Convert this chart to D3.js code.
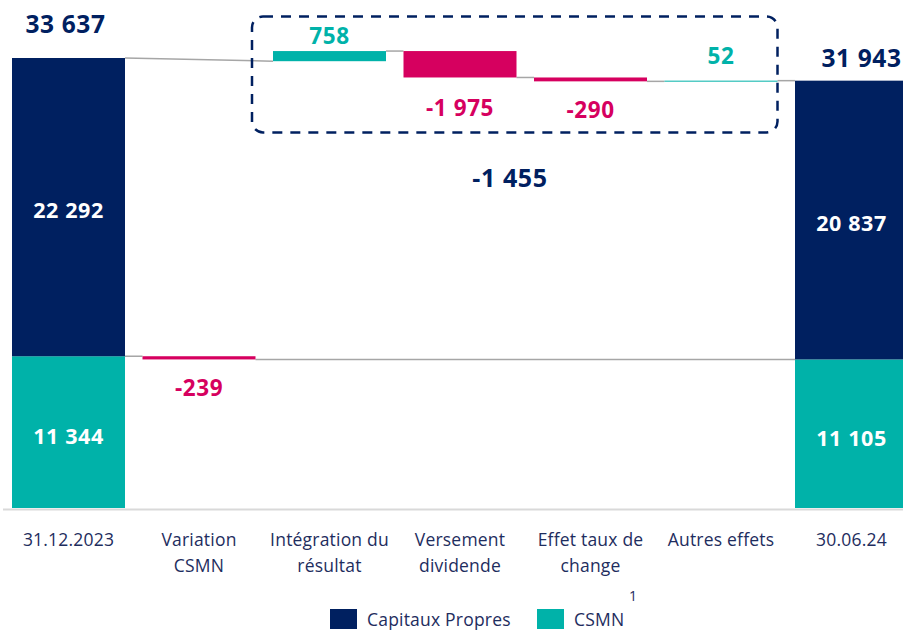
<!DOCTYPE html>
<html><head><meta charset="utf-8">
<script src="https://cdn.jsdelivr.net/npm/d3@7/dist/d3.min.js"></script>
<style>
html,body{margin:0;padding:0;background:#fff;overflow:hidden}
svg{display:block;font-family:"Open Sans",Lato,sans-serif}
</style></head>
<body><svg id="c" width="903" height="630"></svg>
<script>
const categories = ["31.12.2023","Variation CSMN","Intégration du résultat","Versement dividende","Effet taux de change","Autres effets","30.06.24"];
const categoryLines = [["31.12.2023"],["Variation","CSMN"],["Intégration du","résultat"],["Versement","dividende"],["Effet taux de","change"],["Autres effets"],["30.06.24"]];
const capitauxPropres = [22292, null, null, null, null, null, 20837];
const csmn = [11344, null, null, null, null, null, 11105];
const totals = [33637, null, null, null, null, null, 31943];
const deltas = [null, -239, 758, -1975, -290, 52, null];
const boxTotal = -1455;
const legendItems = ["Capitaux Propres", "CSMN"];

(function(){
const NAVY = "#002060", TEAL = "#00b2a9", PINK = "#d6005f", GREY = "#a6a6a6", TXT = "#1e2d5e";
const fmt = v => { const s = Math.abs(v).toString().replace(/\B(?=(\d{3})+(?!\d))/g, " "); return (v < 0 ? "-" : "") + s; };

const svg = d3.select("#c");
const x = d3.scaleBand().domain(categories).range([3.25, 916.75]).paddingInner(17.5/130.5).paddingOuter(17.5/261);
const total0 = totals[0];
const y = d3.scaleLinear().domain([0, total0]).range([508, 58]);
const bw = x.bandwidth();

svg.append("line").attr("x1", 3).attr("x2", 903).attr("y1", y(0) + 1.5).attr("y2", y(0) + 1.5)
  .attr("stroke", "#d9d9d9").attr("stroke-width", 2);

let csmnLevel = csmn[0];
let runTop = total0;
const steps = [];
deltas.forEach((d, i) => {
  if (d === null) return;
  if (i === 1) { steps.push({i, from: csmnLevel, to: csmnLevel + d, d}); csmnLevel += d; runTop += d; }
  else { steps.push({i, from: runTop, to: runTop + d, d}); runTop += d; }
});

const conn = [];
const cat = i => categories[i];
conn.push([x(cat(0)) + bw, y(csmn[0]), x(cat(1)), y(csmn[0])]);
conn.push([x(cat(1)) + bw, y(csmn[0] + deltas[1]), x(cat(6)), y(csmn[0] + deltas[1])]);
conn.push([x(cat(0)) + bw, y(total0), x(cat(2)), y(steps[1].from)]);
for (let k = 1; k < steps.length - 1; k++) {
  conn.push([x(cat(steps[k].i)) + bw, y(steps[k].to), x(cat(steps[k+1].i)), y(steps[k+1].from)]);
}
const last = steps[steps.length - 1];
conn.push([x(cat(last.i)) + bw, y(last.to), x(cat(6)), y(totals[6])]);
svg.selectAll("line.conn").data(conn).join("line").attr("class", "conn")
  .attr("x1", d => d[0]).attr("y1", d => d[1]).attr("x2", d => d[2]).attr("y2", d => d[3])
  .attr("stroke", GREY).attr("stroke-width", 1.5);

const bold = (sel, size) => sel.attr("font-weight", 700).attr("font-size", size).attr("letter-spacing", 0.6);

[0, 6].forEach(i => {
  const xs = x(cat(i));
  svg.append("rect").attr("x", xs).attr("width", bw).attr("y", y(csmn[i])).attr("height", y(0) - y(csmn[i])).attr("fill", TEAL);
  svg.append("rect").attr("x", xs).attr("width", bw).attr("y", y(totals[i])).attr("height", y(csmn[i]) - y(totals[i])).attr("fill", NAVY);
  bold(svg.append("text").attr("x", xs + bw/2).attr("y", (y(0) + y(csmn[i]))/2 + 12).attr("text-anchor", "middle")
    .attr("fill", "#fff"), 21.5).text(fmt(csmn[i]));
  bold(svg.append("text").attr("x", xs + bw/2).attr("y", (y(csmn[i]) + y(totals[i]))/2 + 11).attr("text-anchor", "middle")
    .attr("fill", "#fff"), 21.5).text(fmt(capitauxPropres[i]));
});
bold(svg.append("text").attr("x", x(cat(0)) + bw/2 - 3).attr("y", y(totals[0]) - 25).attr("text-anchor", "middle")
  .attr("fill", NAVY), 24.5).text(fmt(totals[0]));
bold(svg.append("text").attr("x", x(cat(6)) + bw/2 + 10).attr("y", y(totals[6]) - 14).attr("text-anchor", "middle")
  .attr("fill", NAVY), 24.5).text(fmt(totals[6]));

const posOffset = {2: 7, 5: 17};
steps.forEach(s => {
  const y1 = y(Math.max(s.from, s.to)), y2 = y(Math.min(s.from, s.to));
  const col = s.d < 0 ? PINK : TEAL;
  svg.append("rect").attr("x", x(cat(s.i))).attr("width", bw).attr("y", y1).attr("height", Math.max(1, y2 - y1)).attr("fill", col);
  const ty = s.d < 0 ? Math.max(y2 + 37, 116) : y1 - (posOffset[s.i] || 7);
  bold(svg.append("text").attr("x", x(cat(s.i)) + bw/2).attr("y", ty).attr("text-anchor", "middle")
    .attr("fill", col), 22.5).text(fmt(s.d));
});

const bx0 = x(cat(2)) - 21, bx1 = x(cat(5)) + bw;
svg.append("rect").attr("x", bx0).attr("y", 16.5).attr("width", bx1 - bx0).attr("height", 116).attr("rx", 11)
  .attr("fill", "none").attr("stroke", NAVY).attr("stroke-width", 2.5).attr("stroke-dasharray", "10 8");
bold(svg.append("text").attr("x", 510).attr("y", 187).attr("text-anchor", "middle")
  .attr("fill", NAVY), 25).text(fmt(boxTotal));

categoryLines.forEach((lines, i) => {
  const t = svg.append("text").attr("x", x(cat(i)) + bw/2).attr("y", 546).attr("text-anchor", "middle")
    .attr("fill", TXT).attr("font-size", 17.5).attr("letter-spacing", 0.2);
  lines.forEach((l, j) => t.append("tspan").attr("x", x(cat(i)) + bw/2).attr("dy", j ? 26 : 0).text(l));
});

const lg = svg.append("g");
lg.append("rect").attr("x", 330).attr("y", 609).attr("width", 27).attr("height", 20).attr("fill", NAVY);
lg.append("text").attr("x", 367).attr("y", 626).attr("fill", TXT).attr("font-size", 17.5).attr("letter-spacing", 0.2).text(legendItems[0]);
lg.append("rect").attr("x", 537).attr("y", 609).attr("width", 27).attr("height", 20).attr("fill", TEAL);
lg.append("text").attr("x", 574).attr("y", 626).attr("fill", TXT).attr("font-size", 17.5).attr("letter-spacing", 0.2).text(legendItems[1]);
lg.append("text").attr("x", 629).attr("y", 601).attr("fill", TXT).attr("font-size", 14).text("1");
})();
</script></body></html>
